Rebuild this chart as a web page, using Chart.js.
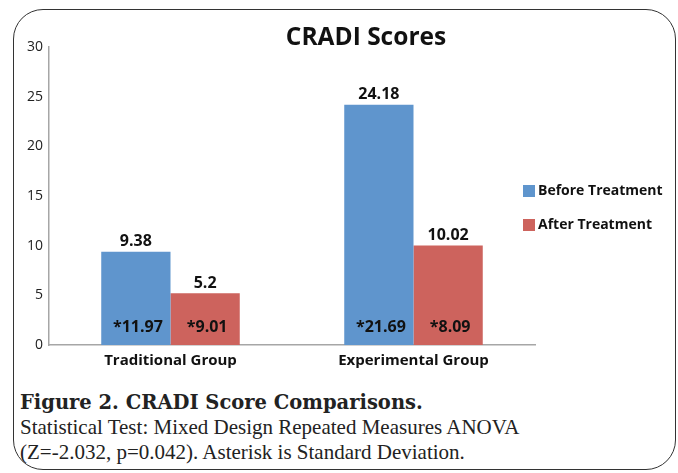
<!DOCTYPE html>
<html lang="en">
<head>
    <meta charset="UTF-8">
    <title>CRADI Scores</title>
    <script src="https://cdn.jsdelivr.net/npm/chart.js"></script>
    <style>
        body { margin: 0; background: #fff; }
        .frame {
            position: absolute; left: 13px; top: 9px; width: 661px; height: 459px;
            border: 1.5px solid #333; border-radius: 30px;
        }
        .chart-box { position: absolute; left: 0; top: 0; width: 678px; height: 380px; }
        .caption {
            position: absolute; left: 20px; top: 390px; width: 640px;
            font-family: "Liberation Serif", "DejaVu Serif", serif; font-size: 21px;
            line-height: 25px; color: #222;
        }
        .caption b { font-family: "DejaVu Serif", serif; font-size: 19.5px; font-weight: bold; }
    </style>
</head>
<body>
    <div class="frame"></div>
    <div class="chart-box"><canvas id="cradiChart" width="678" height="380"></canvas></div>
    <div class="caption">
        <b>Figure 2. CRADI Score Comparisons.</b><br>
        Statistical Test: Mixed Design Repeated Measures ANOVA<br>
        (Z=-2.032, p=0.042). Asterisk is Standard Deviation.
    </div>
    <script>
        // Dados
        const grupos = ['Traditional Group', 'Experimental Group'];
        const seriesNomes = ['Before Treatment', 'After Treatment'];
        const antes = [9.38, 24.18];
        const depois = [5.2, 10.02];
        const desvioAntes = ['*11.97', '*21.69'];
        const desvioDepois = ['*9.01', '*8.09'];
        const yTicks = [0, 5, 10, 15, 20, 25, 30];

        const fonte = '"Open Sans", "DejaVu Sans", sans-serif';

        // rótulos das barras, título e legenda
        const rotulos = {
            id: 'rotulos',
            afterDatasetsDraw(chart) {
                const ctx = chart.ctx;
                const desvios = [desvioAntes, desvioDepois];
                ctx.save();
                ctx.fillStyle = '#111';
                ctx.textAlign = 'center';
                ctx.textBaseline = 'middle';
                ctx.font = 'bold 16px ' + fonte;
                chart.data.datasets.forEach((ds, i) => {
                    chart.getDatasetMeta(i).data.forEach((bar, j) => {
                        ctx.fillText(String(ds.data[j]), bar.x, bar.y - 10);
                        ctx.fillText(desvios[i][j], bar.x + 2, bar.base - 18);
                    });
                });
                // título
                ctx.font = 'bold 24.5px ' + fonte;
                ctx.fillText('CRADI Scores', 366, 38);
                // legenda
                ctx.textAlign = 'left';
                ctx.font = 'bold 14px ' + fonte;
                chart.data.datasets.forEach((ds, i) => {
                    const y = 191 + i * 34;
                    ctx.fillStyle = ds.backgroundColor;
                    ctx.fillRect(523, y - 6, 12, 12);
                    ctx.fillStyle = '#111';
                    ctx.fillText(ds.label, 538, y);
                });
                ctx.restore();
            }
        };

        const ctx = document.getElementById('cradiChart').getContext('2d');
        new Chart(ctx, {
            type: 'bar',
            data: {
                labels: grupos,
                datasets: [
                    { label: seriesNomes[0], data: antes, backgroundColor: '#5f95cd' },
                    { label: seriesNomes[1], data: depois, backgroundColor: '#cd635d' }
                ]
            },
            options: {
                responsive: false,
                animation: false,
                layout: { padding: { top: 47, right: 143, left: 0, bottom: 0 } },
                datasets: { bar: { categoryPercentage: 0.57, barPercentage: 1.0 } },
                plugins: { legend: { display: false }, tooltip: { enabled: false } },
                scales: {
                    x: {
                        grid: { display: false, drawTicks: false },
                        border: { color: '#a6a6a6', width: 1.5 },
                        ticks: { color: '#111', font: { family: fonte, size: 15, weight: 'bold' }, padding: 7 },
                        afterFit: (s) => { s.height = 35; }
                    },
                    y: {
                        min: 0, max: 30,
                        afterBuildTicks: (s) => { s.ticks = yTicks.map(v => ({ value: v })); },
                        grid: { display: false, drawTicks: false },
                        border: { color: '#a6a6a6', width: 1.5 },
                        ticks: { color: '#222', font: { family: fonte, size: 14 }, padding: 6 },
                        afterFit: (s) => { s.width = 49; }
                    }
                }
            },
            plugins: [rotulos]
        });
    </script>
</body>
</html>
